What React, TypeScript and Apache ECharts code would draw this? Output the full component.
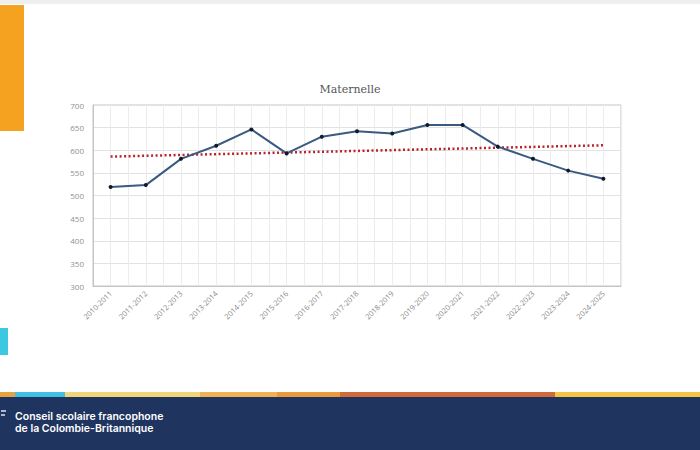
import React, { useEffect, useRef } from "react";
import * as echarts from "echarts";

const categories = [
  "2010-2011", "2011-2012", "2012-2013", "2013-2014", "2014-2015",
  "2015-2016", "2016-2017", "2017-2018", "2018-2019", "2019-2020",
  "2020-2021", "2021-2022", "2022-2023", "2023-2024", "2024-2025",
];
const enrolment = [519, 523, 581, 610, 646, 593, 630, 642, 637, 656, 656, 608, 581, 555, 537];
const trendEnds = [586, 611];
const yTicks = [300, 350, 400, 450, 500, 550, 600, 650, 700];
const footerLines = ["Conseil scolaire francophone", "de la Colombie-Britannique"];
const stripeColors = ["#e9a23f", "#3fc1df", "#f2d57a", "#efb257", "#e99a3a", "#cf6a3c", "#f4c445"];
const stripeStops = [0, 15, 65, 200, 277, 340, 555, 700];

export default function App() {
  const ref = useRef<HTMLDivElement>(null);
  useEffect(() => {
    if (!ref.current) return;
    const chart = echarts.init(ref.current, null, { renderer: "svg" });
    const halfCats = categories.flatMap((c) => [c + "a", c + "b"]);
    const stripes = stripeColors.map((c, i) => ({
      type: "rect",
      shape: { x: stripeStops[i], y: 392, width: stripeStops[i + 1] - stripeStops[i], height: 5 },
      style: { fill: c },
    }));
    chart.setOption({
      animation: false,
      backgroundColor: "#ffffff",
      title: {
        text: "Maternelle",
        left: "center",
        top: 79,
        textStyle: { fontFamily: "DejaVu Serif", fontSize: 11, fontWeight: "normal", color: "#555" },
      },
      grid: {
        left: 93, right: 79, top: 105, bottom: 164,
        show: true, borderColor: "#c4c4c4", borderWidth: 1, backgroundColor: "transparent",
      },
      xAxis: [
        {
          type: "category",
          data: categories,
          boundaryGap: true,
          axisLine: { show: true, lineStyle: { color: "#c4c4c4" } },
          axisTick: { show: false },
          splitLine: { show: false },
          axisLabel: {
            rotate: 45, interval: 0, fontSize: 7.5, color: "#888",
            fontFamily: "Open Sans", margin: 6,
          },
        },
        {
          type: "category",
          data: halfCats,
          position: "top",
          boundaryGap: true,
          axisLine: { show: false },
          axisTick: { show: false },
          axisLabel: { show: false },
          splitLine: { show: true, interval: 0, lineStyle: { color: "#ececec", width: 1 } },
        },
      ],
      yAxis: {
        type: "value",
        min: yTicks[0],
        max: yTicks[yTicks.length - 1],
        interval: 50,
        axisLine: { show: true, lineStyle: { color: "#c4c4c4" } },
        axisTick: { show: false },
        axisLabel: { fontSize: 8, color: "#8f8f8f", fontFamily: "Open Sans", margin: 9 },
        splitLine: { show: true, lineStyle: { color: "#e2e2e2" } },
      },
      series: [
        {
          type: "line",
          data: [[categories[0], trendEnds[0]], [categories[categories.length - 1], trendEnds[1]]],
          symbol: "none",
          lineStyle: { color: "#b8232b", width: 2.5, type: [2, 2.5] },
          z: 2,
        },
        {
          type: "line",
          data: enrolment,
          symbol: "circle",
          symbolSize: 4,
          itemStyle: { color: "#111a2a" },
          lineStyle: { color: "#3a5a82", width: 2 },
          z: 3,
        },
      ],
      graphic: [
        { type: "rect", shape: { x: 0, y: 0, width: 700, height: 4 }, style: { fill: "#efefef" } },
        { type: "rect", shape: { x: 0, y: 5, width: 24, height: 126 }, style: { fill: "#f4a21f" } },
        { type: "rect", shape: { x: 0, y: 328, width: 8, height: 27 }, style: { fill: "#3cc8e0" } },
        ...stripes,
        { type: "rect", shape: { x: 0, y: 397, width: 700, height: 53 }, style: { fill: "#1f3560" } },
        { type: "polyline", shape: { points: [[1, 411], [6, 411]] }, style: { stroke: "#dfe6f0", lineWidth: 1.5 } },
        { type: "polyline", shape: { points: [[1, 415], [5, 415]] }, style: { stroke: "#dfe6f0", lineWidth: 1.5 } },
        {
          type: "text", x: 15, y: 416.5,
          style: {
            text: footerLines[0], fill: "#ffffff", font: "600 10.5px Inter",
            verticalAlign: "middle", lineHeight: 11,
          },
        },
        {
          type: "text", x: 15, y: 428.5,
          style: {
            text: footerLines[1], fill: "#ffffff", font: "600 10.5px Inter",
            verticalAlign: "middle", lineHeight: 11,
          },
        },
      ],
    });
    return () => chart.dispose();
  }, []);
  return <div ref={ref} style={{ position: "absolute", left: 0, top: 0, width: 700, height: 450 }} />;
}
